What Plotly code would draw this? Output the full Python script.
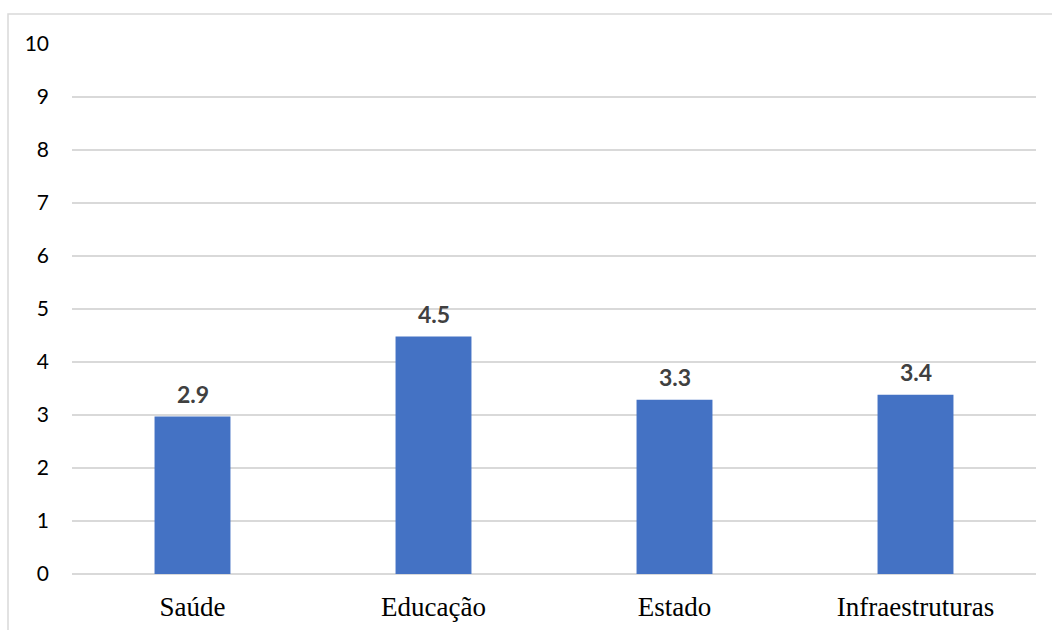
import plotly.graph_objects as go

categories = ["Saúde", "Educação", "Estado", "Infraestruturas"]
values = [2.97, 4.48, 3.29, 3.38]
value_labels = ["2.9", "4.5", "3.3", "3.4"]
y_ticks = list(range(0, 11))

BAR = "#4472C4"
GRID = "#D9D9D9"

fig = go.Figure()
fig.add_trace(go.Bar(
    x=categories, y=values, marker=dict(color=BAR, line=dict(width=0)),
    hoverinfo="skip", showlegend=False,
))

for c, v, t in zip(categories, values, value_labels):
    fig.add_annotation(
        x=c, y=v, text=f"<b>{t}</b>", showarrow=False,
        yanchor="middle", yshift=23,
        font=dict(family="Lato, Open Sans, sans-serif", size=23, color="#404040"),
    )

fig.add_shape(
    type="rect", xref="paper", yref="paper",
    x0=(8 - 72) / 964, x1=1.06, y0=-0.2, y1=(574 - 14) / 530,
    line=dict(color=GRID, width=1.5), fillcolor="rgba(0,0,0,0)", layer="below",
)

fig.update_layout(
    width=1052, height=630,
    margin=dict(l=72, r=16, t=44, b=56),
    paper_bgcolor="white", plot_bgcolor="white",
    bargap=0.685,
    xaxis=dict(
        showgrid=False, showline=False, zeroline=False, automargin=False,
        ticks="", ticklabelstandoff=14,
        tickfont=dict(family="Liberation Serif, Times New Roman, serif", size=27, color="#000000"),
    ),
    yaxis=dict(
        range=[0, 10], tickvals=y_ticks, showgrid=True, gridcolor=GRID, gridwidth=1.5,
        zeroline=True, zerolinecolor=GRID, zerolinewidth=1.5, showline=False,
        automargin=False, ticks="", ticklabelstandoff=22,
        tickfont=dict(family="Lato, Open Sans, sans-serif", size=21, color="#000000"),
    ),
)

fig.write_html("out.html")
